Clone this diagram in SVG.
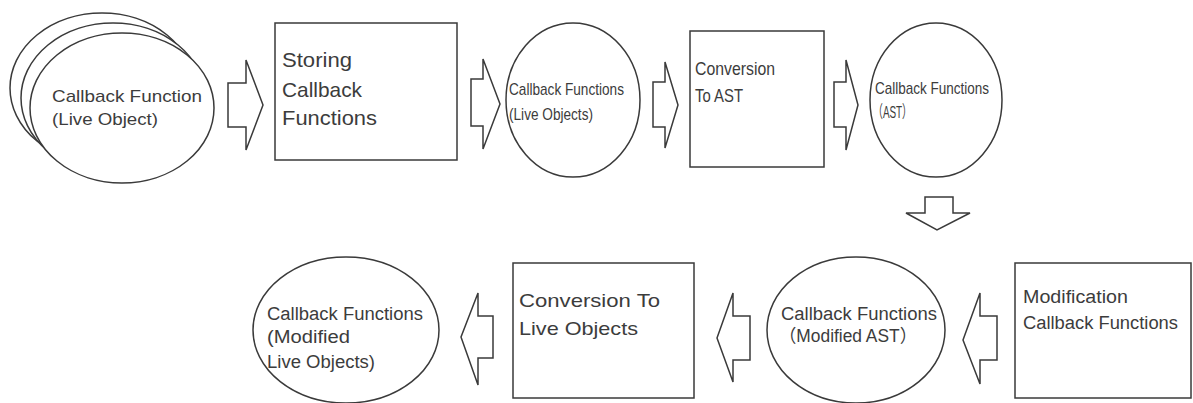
<svg xmlns="http://www.w3.org/2000/svg" width="1193" height="403" viewBox="0 0 1193 403">
  <style>
    .shape { fill: #ffffff; stroke: #3a3a3a; stroke-width: 1.5; }
    .arrow { fill: #ffffff; stroke: #3a3a3a; stroke-width: 1.5; stroke-linejoin: miter; }
    text { font-family: "Liberation Sans", "Noto Sans CJK JP", sans-serif; fill: #3c3c3c; }
    .t17 { font-size: 17px; }
    .t18 { font-size: 18px; }
    .t19 { font-size: 19px; }
    .t21 { font-size: 21px; }
  </style>
  <rect x="0" y="0" width="1193" height="403" fill="#ffffff"/>

  <!-- block arrows between the steps -->
  <g id="connectors">
    <polygon class="arrow" points="228,83 246,83 246,60 263,105 246,150 246,127 228,127"/>
    <polygon class="arrow" points="471,79 483,79 483,59 500,104 483,149 483,126 471,126"/>
    <polygon class="arrow" points="653,82 665,82 665,62 678,105 665,148 665,127 653,127"/>
    <polygon class="arrow" points="834,82 846,82 846,60 858,105 846,150 846,127 834,127"/>
    <polygon class="arrow" points="925,197 953,197 953,213 970,213 937,230 906,213 925,213"/>
    <polygon class="arrow" points="997,316 980,316 980,293 963,340 980,384 980,360 997,360"/>
    <polygon class="arrow" points="750,316 733,316 733,293 717,338 733,382 733,360 750,360"/>
    <polygon class="arrow" points="493,316 478,316 478,293 461,337 478,385 478,358 493,358"/>
  </g>

  <!-- stacked live callback objects -->
  <g id="node-live-callbacks">
    <ellipse class="shape" cx="102" cy="88" rx="92" ry="75"/>
    <ellipse class="shape" cx="113" cy="98" rx="92" ry="75"/>
    <ellipse class="shape" cx="122" cy="108" rx="92" ry="75"/>
    <text class="t17" x="52" y="102" textLength="150" lengthAdjust="spacingAndGlyphs">Callback Function</text>
    <text class="t17" x="52" y="125" textLength="106" lengthAdjust="spacingAndGlyphs">(Live Object)</text>
  </g>

  <g id="node-storing">
    <rect class="shape" x="275" y="23" width="182" height="137"/>
    <text class="t21" x="282" y="67" textLength="70" lengthAdjust="spacingAndGlyphs">Storing</text>
    <text class="t21" x="282" y="97" textLength="80" lengthAdjust="spacingAndGlyphs">Callback</text>
    <text class="t21" x="282" y="125" textLength="95" lengthAdjust="spacingAndGlyphs">Functions</text>
  </g>

  <g id="node-stored-live">
    <ellipse class="shape" cx="573" cy="100" rx="67" ry="77"/>
    <text class="t17" x="509" y="95" textLength="115" lengthAdjust="spacingAndGlyphs">Callback Functions</text>
    <text class="t17" x="509" y="120" textLength="84" lengthAdjust="spacingAndGlyphs">(Live Objects)</text>
  </g>

  <g id="node-to-ast">
    <rect class="shape" x="690" y="31" width="134" height="136"/>
    <text class="t19" x="695" y="75" textLength="80" lengthAdjust="spacingAndGlyphs">Conversion</text>
    <text class="t19" x="695" y="102" textLength="48" lengthAdjust="spacingAndGlyphs">To AST</text>
  </g>

  <g id="node-ast">
    <ellipse class="shape" cx="936" cy="100" rx="66" ry="77"/>
    <text class="t17" x="875" y="94" textLength="114" lengthAdjust="spacingAndGlyphs">Callback Functions</text>
    <text class="t17" x="873" y="118" textLength="39" lengthAdjust="spacingAndGlyphs">（AST）</text>
  </g>

  <g id="node-modification">
    <rect class="shape" x="1015" y="263" width="176" height="135"/>
    <text class="t18" x="1023" y="303" textLength="105" lengthAdjust="spacingAndGlyphs">Modification</text>
    <text class="t18" x="1023" y="329" textLength="155" lengthAdjust="spacingAndGlyphs">Callback Functions</text>
  </g>

  <g id="node-modified-ast">
    <ellipse class="shape" cx="856" cy="330" rx="89" ry="73"/>
    <text class="t18" x="781" y="320" textLength="156" lengthAdjust="spacingAndGlyphs">Callback Functions</text>
    <text class="t18" x="779" y="342" textLength="138" lengthAdjust="spacingAndGlyphs">（Modified AST）</text>
  </g>

  <g id="node-to-live">
    <rect class="shape" x="513" y="263" width="181" height="135"/>
    <text class="t19" x="519" y="307" textLength="141" lengthAdjust="spacingAndGlyphs">Conversion To</text>
    <text class="t19" x="519" y="335" textLength="119" lengthAdjust="spacingAndGlyphs">Live Objects</text>
  </g>

  <g id="node-modified-live">
    <ellipse class="shape" cx="346" cy="330" rx="93" ry="73"/>
    <text class="t18" x="267" y="320" textLength="156" lengthAdjust="spacingAndGlyphs">Callback Functions</text>
    <text class="t18" x="267" y="343" textLength="83" lengthAdjust="spacingAndGlyphs">(Modified</text>
    <text class="t18" x="267" y="368" textLength="108" lengthAdjust="spacingAndGlyphs">Live Objects)</text>
  </g>
</svg>
